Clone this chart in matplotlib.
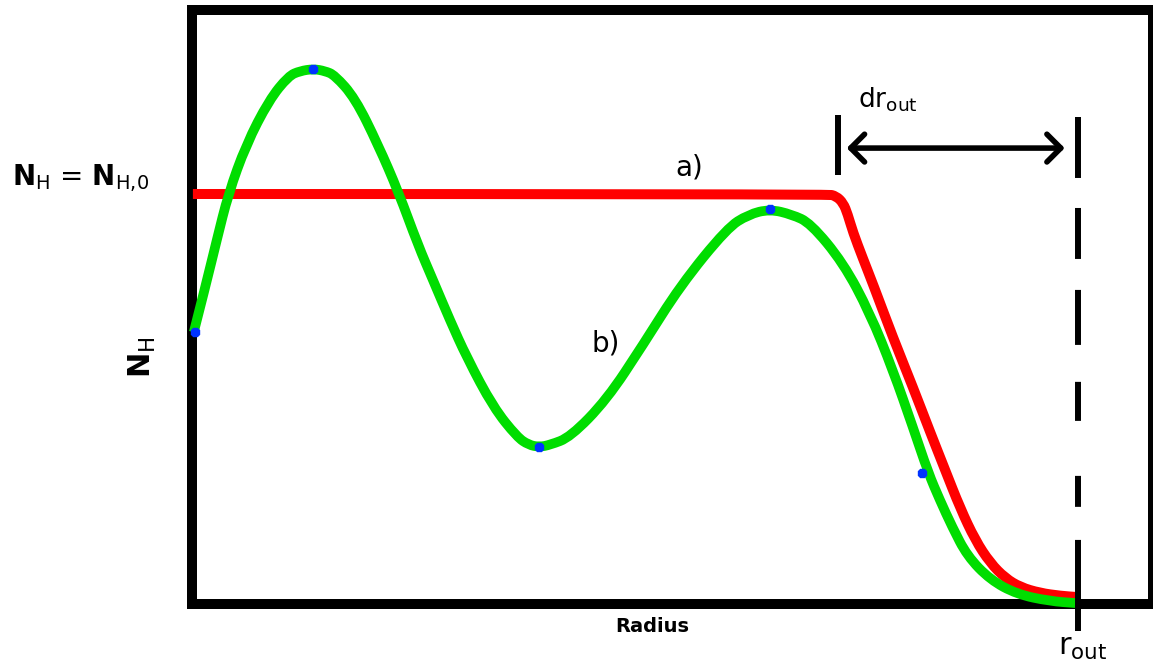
import matplotlib
matplotlib.use("Agg")
import matplotlib.pyplot as plt
from matplotlib.path import Path
import matplotlib.patches as patches

plt.rcParams['lines.scale_dashes'] = False

# -------------- data (radius normalised to r_out = 1, N_H to N_H,0 = 1) --------------
r_out = 1.0

red_r = [0.001, 0.717, 0.727, 0.735, 0.740, 0.746, 0.757, 0.769, 0.791, 0.814,
         0.833, 0.850, 0.867, 0.884, 0.901, 0.918, 0.935, 0.957, 0.980, 0.999]
red_nh = [1.000, 1.000, 0.995, 0.978, 0.951, 0.907, 0.844, 0.778, 0.651, 0.527,
          0.420, 0.327, 0.234, 0.156, 0.100, 0.063, 0.041, 0.027, 0.020, 0.017]

green_r = [0.002, 0.015, 0.028, 0.041, 0.061, 0.087, 0.109, 0.122, 0.137, 0.150,
           0.161, 0.184, 0.210, 0.233, 0.255, 0.272, 0.291, 0.310, 0.340, 0.367,
           0.380, 0.392, 0.404, 0.427, 0.468, 0.509, 0.551, 0.604, 0.628, 0.652,
           0.677, 0.698, 0.735, 0.765, 0.791, 0.814, 0.831, 0.844, 0.858, 0.875,
           0.901, 0.931, 0.968, 0.999]
green_nh = [0.663, 0.773, 0.888, 1.000, 1.120, 1.229, 1.288, 1.300, 1.305, 1.300,
            1.290, 1.234, 1.120, 1.005, 0.876, 0.790, 0.693, 0.602, 0.480, 0.407,
            0.388, 0.383, 0.388, 0.407, 0.498, 0.632, 0.776, 0.917, 0.950, 0.963,
            0.950, 0.929, 0.832, 0.710, 0.571, 0.429, 0.320, 0.254, 0.188, 0.117,
            0.059, 0.024, 0.007, 0.002]

pts_r = [0.003, 0.137, 0.392, 0.652, 0.824]
pts_nh = [0.663, 1.305, 0.383, 0.963, 0.320]


def smooth_path(xs, ys):
    # quadratic bezier through the midpoints, read points act as control points
    verts = [(xs[0], ys[0])]
    codes = [Path.MOVETO]
    for i in range(1, len(xs) - 1):
        verts += [(xs[i], ys[i]), ((xs[i] + xs[i+1]) / 2, (ys[i] + ys[i+1]) / 2)]
        codes += [Path.CURVE3, Path.CURVE3]
    verts.append((xs[-1], ys[-1]))
    codes.append(Path.LINETO)
    return Path(verts, codes)


# -------------- figure --------------
fig = plt.figure(figsize=(11.53, 6.66), dpi=100)
ax = fig.add_axes([192/1153, 62/666, 961/1153, 594/666])
ax.set_xlim(0, 961/886)
ax.set_ylim(0, 594/410)
ax.set_xticks([])
ax.set_yticks([])
for s in ax.spines.values():
    s.set_linewidth(7.2)
    s.set_color('black')

red = patches.PathPatch(smooth_path(red_r, red_nh), fc='none', ec='#ff0000', lw=7.2,
                        capstyle='butt', joinstyle='round', zorder=3, clip_on=False)
green = patches.PathPatch(smooth_path(green_r, green_nh), fc='none', ec='#00dd00', lw=7.0,
                          capstyle='butt', joinstyle='round', zorder=4, clip_on=False)
ax.add_patch(red)
ax.add_patch(green)
ax.plot(pts_r, pts_nh, ls='none', marker='8', ms=7, color='#0033ff', mec='#0033ff',
        zorder=5, clip_on=False)

# -------------- r_out marker and dr_out arrow --------------
ax.plot([r_out, r_out], [1.189, -0.066], color='black', lw=4.3, dash_capstyle='butt',
        ls=(0, (43.9, 21.6, 36.7, 22.3, 39.6, 26.6, 28.1, 39.6, 22.3, 23.8, 66.2, 100)),
        zorder=6, clip_on=False)
ax.plot([0.729, 0.729], [1.193, 1.046], color='black', lw=4.3, solid_capstyle='butt')
ax.annotate('', xy=(0.739, 1.112), xytext=(0.985, 1.112),
            arrowprops=dict(arrowstyle='<->, head_length=0.5, head_width=0.5',
                            lw=4, color='black', shrinkA=0, shrinkB=0,
                            mutation_scale=20))

ax.text(0.752, 1.210, r'dr$_{\rm out}$', fontsize=19, ha='left', va='baseline')
ax.text(0.546, 1.044, 'a)', fontsize=20, ha='left', va='baseline')
ax.text(0.451, 0.615, 'b)', fontsize=20, ha='left', va='baseline')

# -------------- outer labels --------------
fig.text(12/1153, (666-185)/666, r'$\mathbf{N}_{\mathrm{H}}$ = $\mathbf{N}_{\mathrm{H{,}0}}$',
         fontsize=20, ha='left', va='baseline')
fig.text(142/1153, (666-357)/666, r'$\mathbf{N}_{\mathrm{H}}$', fontsize=22,
         rotation=90, ha='center', va='center')
fig.text(652/1153, (666-627)/666, 'Radius', fontsize=14, fontweight='bold',
         ha='center', va='center')
fig.text(1058/1153, (666-655)/666, r'r$_{\rm out}$', fontsize=22,
         ha='left', va='baseline')

fig.savefig('out.png', dpi=100)
